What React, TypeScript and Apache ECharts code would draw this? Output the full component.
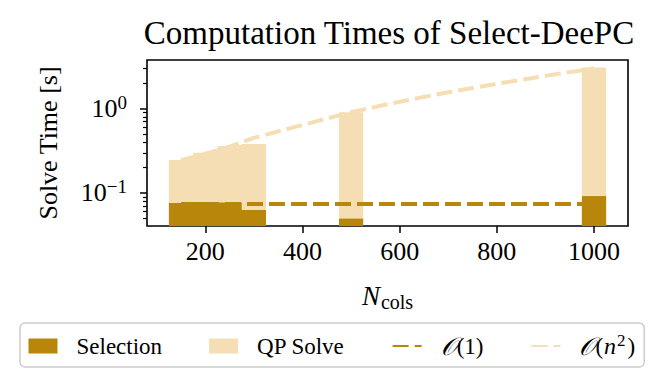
import { useEffect, useRef } from 'react';
import * as echarts from 'echarts';

// ---- data ----
const N_COLS = [150, 175, 200, 225, 250, 275, 300, 500, 1000];
const SELECTION_TIME = [0.076, 0.079, 0.078, 0.078, 0.077, 0.079, 0.063, 0.05, 0.092];
const QP_SOLVE_TIME = [0.171, 0.181, 0.222, 0.232, 0.285, 0.293, 0.318, 0.86, 2.99];
const O1_N = [150, 1000];
const O1_TIME = [0.074, 0.074];
const ON2_N = [150, 200, 250, 300, 400, 500, 600, 700, 800, 900, 1000];
const ON2_TIME = [0.245, 0.29, 0.355, 0.45, 0.64, 0.91, 1.21, 1.57, 1.97, 2.45, 3.0];
const X_TICKS = [200, 400, 600, 800, 1000];
const Y_MAJOR_TICKS = [0.1, 1];
const Y_MINOR_TICKS = [0.05, 0.06, 0.07, 0.08, 0.09, 0.2, 0.3, 0.4, 0.5, 0.6, 0.7, 0.8, 0.9, 2, 3];
const BAR_WIDTH = 50;
const X_MIN = 80;
const X_MAX = 1070;
const Y_MIN = 0.0406;
const Y_MAX = 3.78;

const SEL_NAME = 'Selection';
const QP_NAME = 'QP Solve';
const O1_NAME = '𝒪(1)';
const ON2_NAME = '𝒪(n²)';

const DARK = '#B8860B';
const LIGHT = '#F5DEB3';
const FONT = "'Liberation Serif', 'DejaVu Serif', serif";
const MATH_FONT = "'DejaVu Serif', 'DejaVu Sans', 'Noto Sans', serif";
const DASH = [16, 6];

export default function App() {
  const ref = useRef<HTMLDivElement>(null);

  useEffect(() => {
    if (!ref.current) return;
    const chart = echarts.init(ref.current, null, { renderer: 'svg' });

    const selData = N_COLS.map((n, i) => [n, SELECTION_TIME[i]]);
    const qpData = N_COLS.map((n, i) => [n, SELECTION_TIME[i], SELECTION_TIME[i] + QP_SOLVE_TIME[i]]);

    const option: any = {
      animation: false,
      backgroundColor: '#ffffff',
      textStyle: { fontFamily: FONT, color: '#000' },
      title: {
        text: 'Computation Times of Select-DeePC',
        left: 384,
        top: 11,
        textAlign: 'center',
        textStyle: { fontFamily: FONT, fontSize: 33, fontWeight: 'normal', color: '#000' },
      },
      legend: {
        left: 20,
        top: 323,
        orient: 'horizontal',
        itemWidth: 29,
        itemHeight: 15,
        itemGap: 47,
        padding: [8.5, 9, 8.5, 8.5],
        backgroundColor: 'rgba(255,255,255,0.8)',
        borderColor: '#cccccc',
        borderWidth: 1.5,
        borderRadius: 5,
        data: [
          { name: SEL_NAME, icon: 'rect' },
          { name: QP_NAME, icon: 'rect' },
          { name: O1_NAME, itemStyle: { opacity: 0 } },
          { name: ON2_NAME, itemStyle: { opacity: 0 } },
        ],
        formatter: (name: string) => {
          if (name === O1_NAME) return '{o|𝒪}{t|(1)}';
          if (name === ON2_NAME) return '{o|𝒪}{t|(}{i|n}{sup|2}{t|)}';
          return '{t|' + name + '}';
        },
        textStyle: {
          padding: [0, 0, 0, 14],
          rich: {
            t: { fontFamily: FONT, fontSize: 23, color: '#000' },
            o: { fontFamily: MATH_FONT, fontSize: 25, color: '#000', fontStyle: 'italic' },
            i: { fontFamily: FONT, fontSize: 24, color: '#000', fontStyle: 'italic', padding: [0, 1, 0, 1] },
            sup: { fontFamily: FONT, fontSize: 17, color: '#000', padding: [0, 2, 12, 0] },
          },
        },
      },
      grid: {
        left: 147,
        top: 60,
        right: 39,
        bottom: 162,
        show: true,
        borderColor: '#000',
        borderWidth: 1.6,
        backgroundColor: 'transparent',
        containLabel: false,
        outerBoundsMode: 'none',
      },
      xAxis: {
        type: 'value',
        min: X_MIN,
        max: X_MAX,
        axisLine: { show: false },
        splitLine: { show: false },
        axisTick: { show: true, customValues: X_TICKS, length: 7, lineStyle: { color: '#000', width: 1.5 } },
        axisLabel: {
          customValues: X_TICKS,
          margin: 12,
          fontSize: 26,
          fontFamily: FONT,
          color: '#000',
          formatter: (v: number) => String(v),
        },
        name: '{n|N}{sub|cols}',
        nameLocation: 'middle',
        nameGap: 54,
        nameTextStyle: {
          rich: {
            n: { fontFamily: FONT, fontSize: 27, fontStyle: 'italic', color: '#000' },
            sub: { fontFamily: FONT, fontSize: 20, color: '#000', padding: [12, 0, 0, 1] },
          },
        },
      },
      yAxis: [
        {
          type: 'log',
          logBase: 10,
          min: Y_MIN,
          max: Y_MAX,
          axisLine: { show: false },
          splitLine: { show: false },
          minorTick: { show: false },
          axisTick: { show: true, customValues: Y_MAJOR_TICKS, length: 7, lineStyle: { color: '#000', width: 1.5 } },
          axisLabel: {
            customValues: Y_MAJOR_TICKS,
            margin: 20,
            color: '#000',
            formatter: (v: number) => {
              const e = Math.round(Math.log10(v));
              return '{b|10}{s|' + (e < 0 ? '\u2212' + -e : String(e)) + '}';
            },
            rich: {
              b: { fontFamily: FONT, fontSize: 26, color: '#000' },
              s: { fontFamily: FONT, fontSize: 19, color: '#000', padding: [0, 0, 12, 0] },
            },
          },
          name: 'Solve Time [s]',
          nameLocation: 'middle',
          nameRotate: 90,
          nameGap: 86,
          nameTextStyle: { fontFamily: FONT, fontSize: 26, color: '#000' },
        },
        {
          type: 'log',
          logBase: 10,
          min: Y_MIN,
          max: Y_MAX,
          position: 'left',
          axisLine: { show: false },
          splitLine: { show: false },
          axisLabel: { show: false },
          axisTick: { show: true, customValues: Y_MINOR_TICKS, length: 4, lineStyle: { color: '#000', width: 1.2 } },
        },
      ],
      series: [
        {
          name: SEL_NAME,
          type: 'custom',
          clip: true,
          itemStyle: { color: DARK },
          encode: { x: 0, y: 1 },
          data: selData,
          renderItem: (_p: any, api: any) => {
            const n = api.value(0);
            const top = api.value(1);
            const a = api.coord([n - BAR_WIDTH / 2, top]);
            const b = api.coord([n + BAR_WIDTH / 2, Y_MIN]);
            return {
              type: 'rect',
              shape: { x: a[0], y: a[1], width: b[0] - a[0], height: b[1] - a[1] },
              style: { fill: DARK },
            };
          },
        },
        {
          name: QP_NAME,
          type: 'custom',
          clip: true,
          itemStyle: { color: LIGHT },
          encode: { x: 0, y: [1, 2] },
          data: qpData,
          renderItem: (_p: any, api: any) => {
            const n = api.value(0);
            const base = api.value(1);
            const top = api.value(2);
            const a = api.coord([n - BAR_WIDTH / 2, top]);
            const b = api.coord([n + BAR_WIDTH / 2, base]);
            return {
              type: 'rect',
              shape: { x: a[0], y: a[1], width: b[0] - a[0], height: b[1] - a[1] },
              style: { fill: LIGHT },
            };
          },
        },
        {
          name: O1_NAME,
          type: 'line',
          symbol: 'none',
          showSymbol: false,
          color: DARK,
          lineStyle: { color: DARK, width: 4, type: DASH },
          data: O1_N.map((n, i) => [n, O1_TIME[i]]),
        },
        {
          name: ON2_NAME,
          type: 'line',
          symbol: 'none',
          showSymbol: false,
          color: LIGHT,
          lineStyle: { color: LIGHT, width: 4, type: DASH },
          data: ON2_N.map((n, i) => [n, ON2_TIME[i]]),
        },
      ],
    };

    chart.setOption(option);
    return () => chart.dispose();
  }, []);

  return (
    <div
      ref={ref}
      style={{ position: 'fixed', left: 0, top: 0, width: 667, height: 388, background: '#fff' }}
    />
  );
}
